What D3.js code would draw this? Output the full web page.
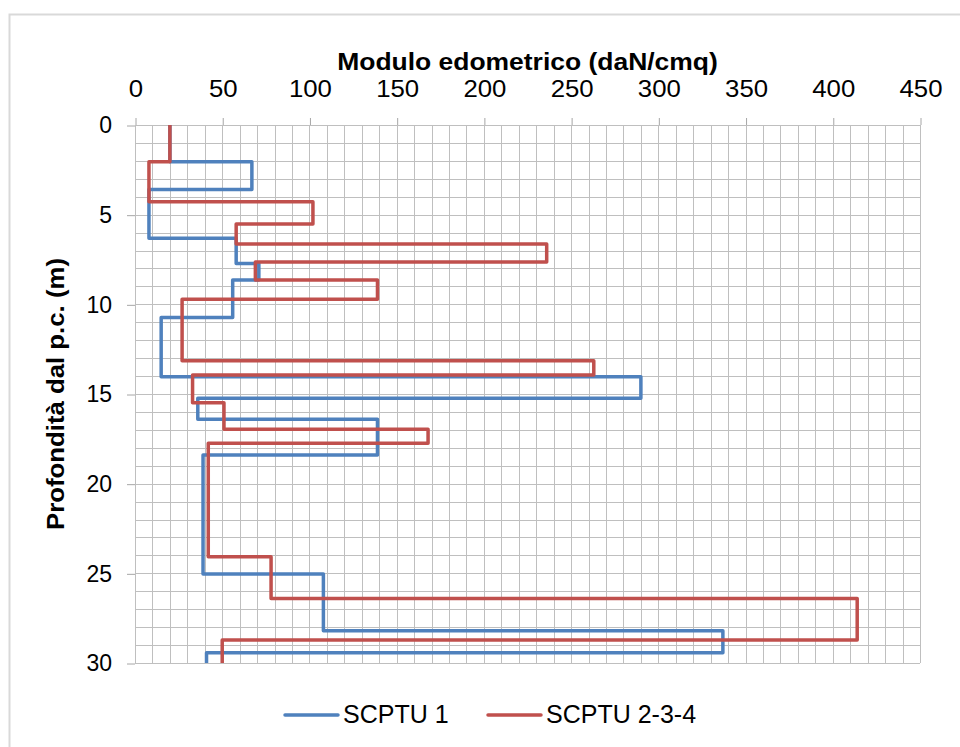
<!DOCTYPE html>
<html>
<head>
<meta charset="utf-8">
<script src="https://cdn.jsdelivr.net/npm/d3@7"></script>
<style>
  body { margin: 0; background: #fff; }
  text { font-family: "Liberation Sans", Arial, sans-serif; fill: #000; }
</style>
</head>
<body>
<script>
"use strict"

// layer boundaries (depth, m) and edometric modulus (daN/cmq) per layer
const scptu1Depths = [0, 2.05, 3.59, 6.32, 7.72, 8.64, 10.73, 14.04, 15.24, 16.41, 18.4, 25.04, 28.2, 29.43, 30]
const scptu1Values = [20, 67, 8, 58, 71, 56, 15, 290, 36, 139, 39, 108, 337, 41]

const scptu234Depths = [0, 2.05, 4.28, 5.52, 6.64, 7.64, 8.64, 9.72, 13.14, 13.94, 15.49, 16.97, 17.74, 24.08, 26.4, 28.72, 30]
const scptu234Values = [20, 8, 102, 58, 236, 69, 139, 27, 263, 33, 51, 168, 42, 78, 414, 50]

const seriesNames = ["SCPTU 1", "SCPTU 2-3-4"]
const xTicks = [0, 50, 100, 150, 200, 250, 300, 350, 400, 450]
const yTicks = [0, 5, 10, 15, 20, 25, 30]

const colors = ["#4F81BD", "#C0504D"]

const W = 960, H = 747
const plot = { left : 135, right : 920, top : 125, bottom : 663 }

const x = d3.scaleLinear().domain([0, 450]).range([plot.left, plot.right])
const y = d3.scaleLinear().domain([0, 30]).range([plot.top, plot.bottom])

const svg = d3.select("body").append("svg")
  .attr("width", W)
  .attr("height", H)

// outer chart frame
svg.append("rect")
  .attr("x", 9.5).attr("y", 14.5)
  .attr("width", W + 20).attr("height", H + 20)
  .attr("fill", "none").attr("stroke", "#d9d9d9").attr("stroke-width", 2)

// minor + major grid
const grid = svg.append("g").attr("stroke", "#bfbfbf").attr("stroke-width", 1)
grid.selectAll(".gx").data(d3.range(0, 451, 10)).enter().append("line")
  .attr("x1", d => Math.round(x(d)) + 0.5).attr("x2", d => Math.round(x(d)) + 0.5)
  .attr("y1", plot.top).attr("y2", plot.bottom)
grid.selectAll(".gy").data(d3.range(0, 31, 1)).enter().append("line")
  .attr("y1", d => Math.round(y(d)) + 0.5).attr("y2", d => Math.round(y(d)) + 0.5)
  .attr("x1", plot.left).attr("x2", plot.right)

// stretch helper (the reference text is a little wider than Arial)
const widen = (sel, k) => sel.each(function () {
  this.setAttribute("textLength", this.getComputedTextLength() * k)
  this.setAttribute("lengthAdjust", "spacingAndGlyphs")
})

// axes
const xAxis = svg.append("g")
  .attr("transform", `translate(0.5 ${plot.top})`)
  .call(d3.axisTop(x).tickValues(xTicks).tickSize(7).tickPadding(21))
const yAxis = svg.append("g")
  .attr("transform", `translate(${plot.left} 0.5)`)
  .call(d3.axisLeft(y).tickValues(yTicks).tickSize(8).tickPadding(15))

for (const ax of [xAxis, yAxis]) {
  ax.attr("font-family", null)
  ax.select(".domain").remove()
  ax.selectAll(".tick line").attr("stroke", "#a6a6a6")
  ax.selectAll(".tick text").attr("font-size", 23).attr("fill", "#000")
}
widen(xAxis.selectAll(".tick text"), 1.12)

// axis titles
svg.append("text")
  .attr("x", (plot.left + plot.right) / 2).attr("y", 70)
  .attr("text-anchor", "middle").attr("font-size", 23).attr("font-weight", "bold")
  .text("Modulo edometrico (daN/cmq)")
  .call(widen, 1.15)

svg.append("text")
  .attr("transform", `translate(64 ${(plot.top + plot.bottom) / 2}) rotate(-90)`)
  .attr("text-anchor", "middle").attr("font-size", 23).attr("font-weight", "bold")
  .text("Profondità dal p.c. (m)")
  .call(widen, 1.12)

// step profiles
const stepPoints = (depths, values) => values.flatMap((v, i) => [[v, depths[i]], [v, depths[i + 1]]])
const line = d3.line().x(d => x(d[0])).y(d => y(d[1]))

const series = [
  stepPoints(scptu1Depths, scptu1Values),
  stepPoints(scptu234Depths, scptu234Values),
]

svg.selectAll(".profile").data(series).enter().append("path")
  .attr("class", "profile")
  .attr("d", line)
  .attr("fill", "none")
  .attr("stroke", (d, i) => colors[i])
  .attr("stroke-width", 3.5)
  .attr("stroke-linejoin", "round")

// legend
const legendX = [285, 488]
const legend = svg.selectAll(".legend").data(seriesNames).enter().append("g")
  .attr("class", "legend")
  .attr("transform", (d, i) => `translate(${legendX[i]} 715)`)
legend.append("line")
  .attr("x1", 0).attr("x2", 53).attr("y1", 0).attr("y2", 0)
  .attr("stroke", (d, i) => colors[i]).attr("stroke-width", 3.5).attr("stroke-linecap", "round")
legend.append("text")
  .attr("x", 58).attr("y", 8)
  .attr("font-size", 25)
  .text(d => d)
</script>
</body>
</html>
